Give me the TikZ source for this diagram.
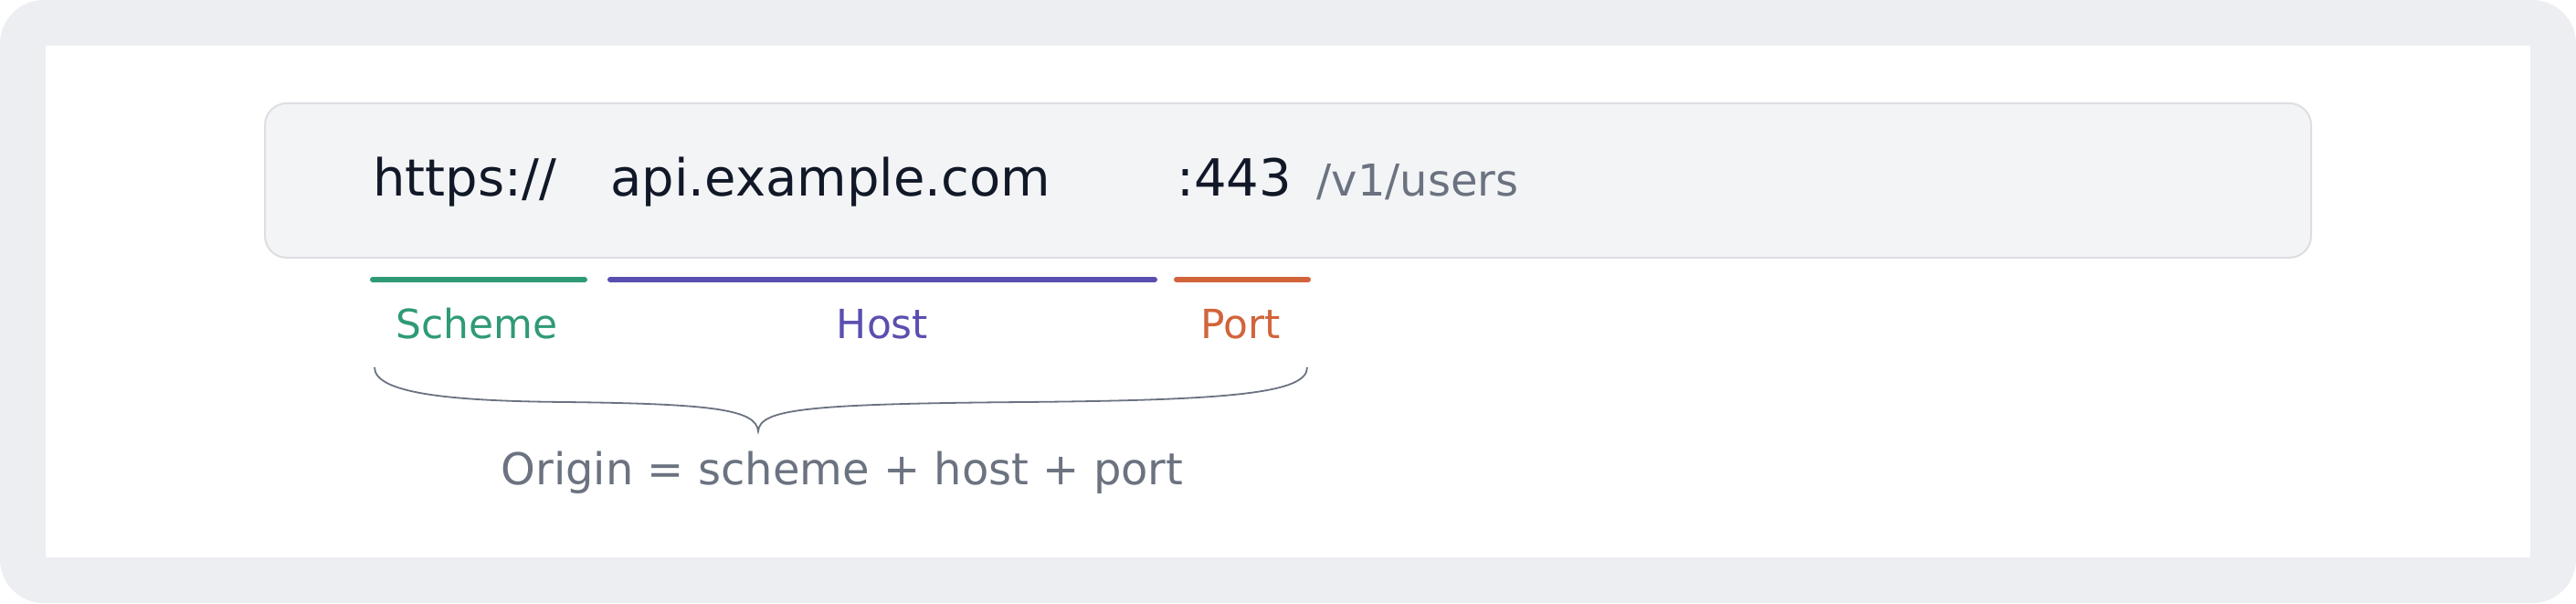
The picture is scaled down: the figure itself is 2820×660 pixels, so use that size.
\documentclass[tikz,border=0pt]{standalone}
\usepackage{fontspec}
\setmainfont{DejaVu Sans}
\definecolor{frame}{HTML}{EDEEF1}
\definecolor{boxfill}{HTML}{F3F4F6}
\definecolor{boxline}{HTML}{DCDEE2}
\definecolor{ink}{HTML}{111827}
\definecolor{muted}{HTML}{6B7280}
\definecolor{schemec}{HTML}{2F9A76}
\definecolor{hostc}{HTML}{5A4FB0}
\definecolor{portc}{HTML}{D2643B}

\begin{document}
\begin{tikzpicture}[x=0.5pt,y=-0.5pt,
    part/.style = {anchor=base west, inner sep=0pt, text=ink, font=\fontsize{28}{32}\selectfont},
    tag/.style = {anchor=base, inner sep=0pt, font=\fontsize{22}{26}\selectfont},
    bar/.style = {line width=3pt, line cap=round}]
    \useasboundingbox (0,0) rectangle (2820,660);
    \fill[white] (0,0) rectangle (2820,660);
    \fill[frame, rounded corners=24pt] (0,0) rectangle (2820,660);
    \fill[white] (50,50) rectangle (2770,610);

    % url bar
    \draw[boxline, fill=boxfill, line width=1pt, rounded corners=12pt] (290,113) rectangle (2530,282);
    \node[part] (scheme) at (408,214) {https://};
    \node[part] (host) at (668,214) {api.example.com};
    \node[part] (port) at (1288,214) {:443};
    \node[part, text=muted, font=\fontsize{24}{28}\selectfont] (path) at (1441,214) {/v1/users};

    % underlines
    \coordinate (s1) at (408,306);
    \coordinate (s2) at (640,306);
    \coordinate (h1) at (668,306);
    \coordinate (h2) at (1264,306);
    \coordinate (p1) at (1288,306);
    \coordinate (p2) at (1432,306);
    \draw[bar, schemec] (s1) -- (s2);
    \draw[bar, hostc] (h1) -- (h2);
    \draw[bar, portc] (p1) -- (p2);

    \node[tag, text=schemec] (1) at (522,370) {Scheme};
    \node[tag, text=hostc] (2) at (966,370) {Host};
    \node[tag, text=portc] (3) at (1358,370) {Port};

    % brace
    \coordinate (b1) at (410,402);
    \coordinate (tip) at (830,472);
    \coordinate (b2) at (1431,402);
    \draw[muted, line width=0.9pt] (b1) .. controls (410,430) and (490,439) .. (620,440)
        .. controls (780,442) and (828,448) .. (tip)
        .. controls (832,448) and (880,442) .. (1120,440)
        .. controls (1350,438) and (1431,430) .. (b2);

    \node[tag, text=muted, font=\fontsize{24}{28}\selectfont] (4) at (922,530) {Origin = scheme + host + port};
\end{tikzpicture}
\end{document}
